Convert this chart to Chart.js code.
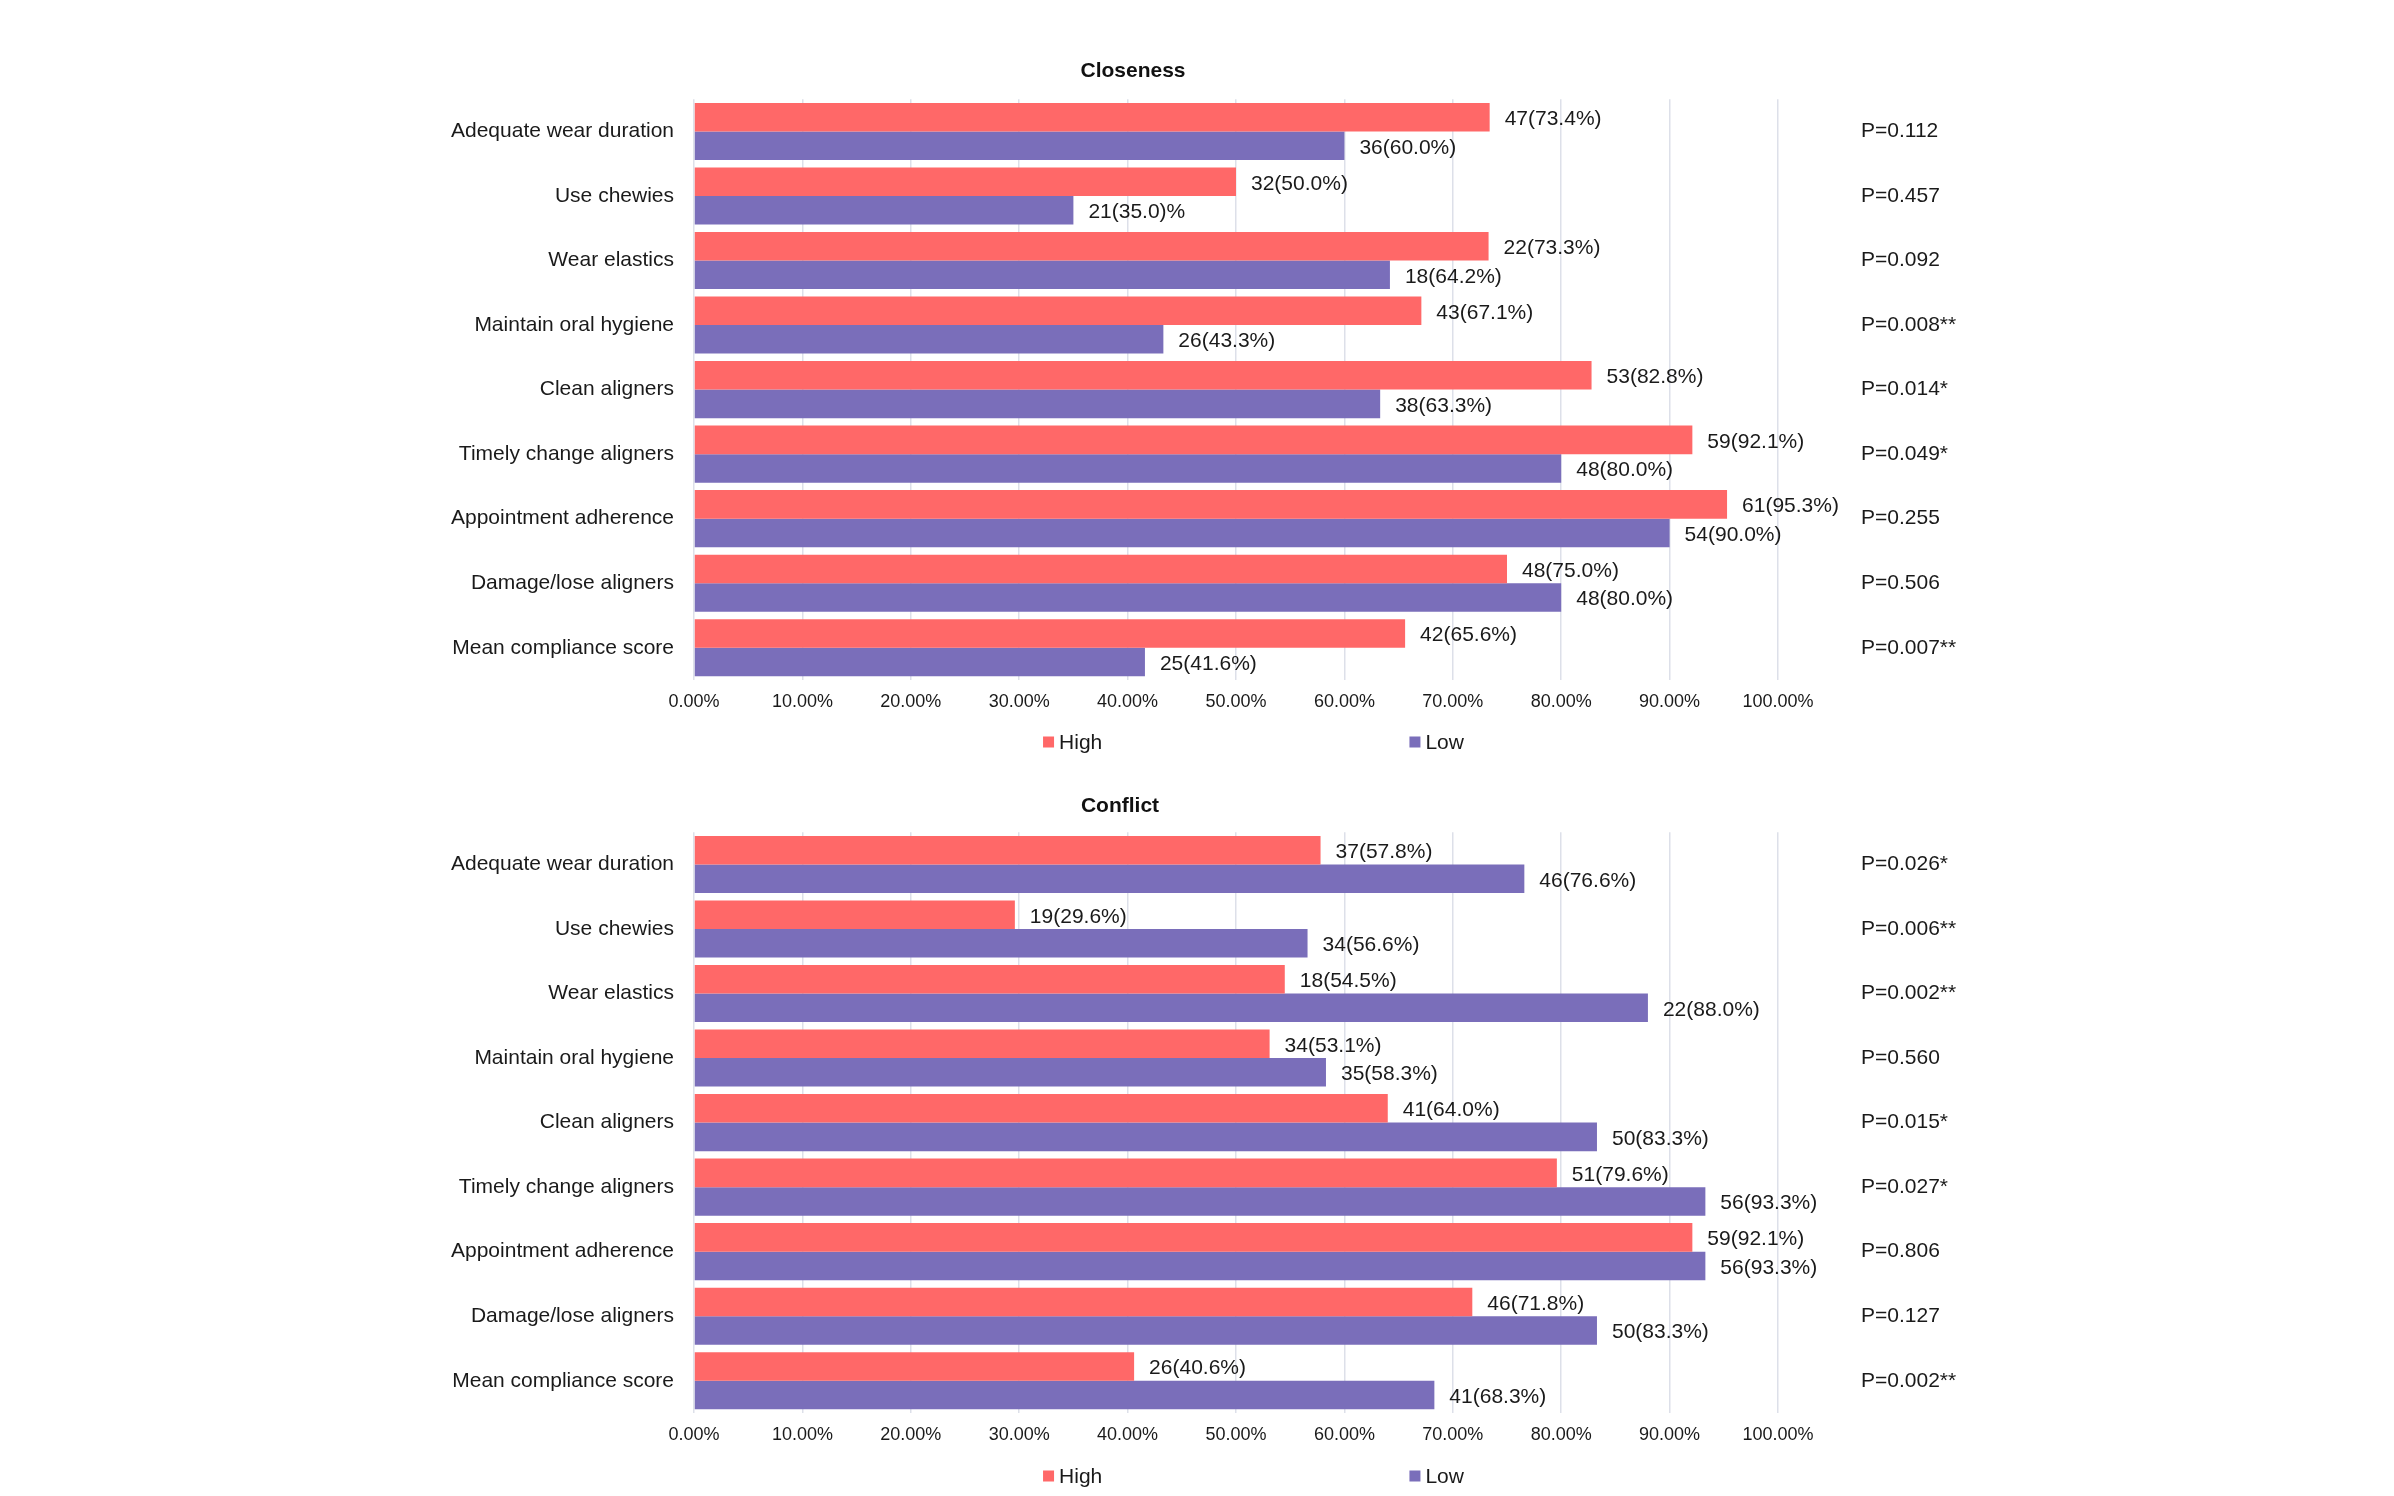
<!DOCTYPE html>
<html lang="en">
<head>
<meta charset="UTF-8" />
<title>Closeness and Conflict - compliance by group</title>
<script src="https://cdn.jsdelivr.net/npm/chart.js"></script>
<style>
  html, body { margin: 0; padding: 0; background: #fff; }
  body { width: 2394px; height: 1496px; position: relative; overflow: hidden; }
  canvas { position: absolute; left: 0; display: block; }
  #closenessChart { top: 0; }
  #conflictChart { top: 770px; }
</style>
</head>
<body>
<canvas id="closenessChart" width="2266" height="770"></canvas>
<canvas id="conflictChart" width="2240" height="726"></canvas>

<script>
const categories = [
  'Adequate wear duration', 'Use chewies', 'Wear elastics', 'Maintain oral hygiene',
  'Clean aligners', 'Timely change aligners', 'Appointment adherence',
  'Damage/lose aligners', 'Mean compliance score'
];
const seriesNames = ['High', 'Low'];
const seriesColors = ['#FF6868', '#7A6EBA'];
const xTickLabels = ['0.00%', '10.00%', '20.00%', '30.00%', '40.00%', '50.00%',
  '60.00%', '70.00%', '80.00%', '90.00%', '100.00%'];

// Closeness
const closenessHigh = [73.4, 50.0, 73.3, 67.1, 82.8, 92.1, 95.3, 75.0, 65.6];
const closenessLow = [60.0, 35.0, 64.2, 43.3, 63.3, 80.0, 90.0, 80.0, 41.6];
const closenessHighText = ['47(73.4%)', '32(50.0%)', '22(73.3%)', '43(67.1%)', '53(82.8%)',
  '59(92.1%)', '61(95.3%)', '48(75.0%)', '42(65.6%)'];
const closenessLowText = ['36(60.0%)', '21(35.0)%', '18(64.2%)', '26(43.3%)', '38(63.3%)',
  '48(80.0%)', '54(90.0%)', '48(80.0%)', '25(41.6%)'];
const closenessP = ['P=0.112', 'P=0.457', 'P=0.092', 'P=0.008**', 'P=0.014*',
  'P=0.049*', 'P=0.255', 'P=0.506', 'P=0.007**'];

// Conflict
const conflictHigh = [57.8, 29.6, 54.5, 53.1, 64.0, 79.6, 92.1, 71.8, 40.6];
const conflictLow = [76.6, 56.6, 88.0, 58.3, 83.3, 93.3, 93.3, 83.3, 68.3];
const conflictHighText = ['37(57.8%)', '19(29.6%)', '18(54.5%)', '34(53.1%)', '41(64.0%)',
  '51(79.6%)', '59(92.1%)', '46(71.8%)', '26(40.6%)'];
const conflictLowText = ['46(76.6%)', '34(56.6%)', '22(88.0%)', '35(58.3%)', '50(83.3%)',
  '56(93.3%)', '56(93.3%)', '50(83.3%)', '41(68.3%)'];
const conflictP = ['P=0.026*', 'P=0.006**', 'P=0.002**', 'P=0.560', 'P=0.015*',
  'P=0.027*', 'P=0.806', 'P=0.127', 'P=0.002**'];

const FONT = '"Liberation Sans", Arial, sans-serif';
const TEXT = '#1a1a1a';
Chart.defaults.font.family = FONT;
Chart.defaults.color = TEXT;

// count(percent) labels at the end of each bar
const valueLabels = {
  id: 'valueLabels',
  afterDatasetsDraw(chart) {
    const ctx = chart.ctx;
    ctx.save();
    ctx.font = '21px ' + FONT;
    ctx.fillStyle = TEXT;
    ctx.textAlign = 'left';
    ctx.textBaseline = 'middle';
    chart.data.datasets.forEach((ds, di) => {
      chart.getDatasetMeta(di).data.forEach((bar, i) => {
        ctx.fillText(ds.valueText[i], bar.x + 15, bar.y + 2);
      });
    });
    ctx.restore();
  }
};

// legend spread out under the plot like the original
const spreadLegend = {
  id: 'spreadLegend',
  afterDraw(chart, args, opts) {
    const { ctx, chartArea } = chart;
    const y = chartArea.bottom + opts.offsetY;
    ctx.save();
    ctx.font = '21px ' + FONT;
    ctx.textAlign = 'left';
    ctx.textBaseline = 'middle';
    chart.data.datasets.forEach((ds, di) => {
      const x = chartArea.left + chartArea.width * opts.positions[di];
      ctx.fillStyle = ds.backgroundColor;
      ctx.fillRect(x, y - 5.5, 11, 11);
      ctx.fillStyle = TEXT;
      ctx.fillText(ds.label, x + 16, y + 1);
    });
    ctx.restore();
  }
};

// fixed axis width; drop the label overhang padding so it does not push the plot area
function fixWidth(w) {
  return s => { s.width = w; s.paddingTop = 0; s.paddingBottom = 0; };
}

function makeChart(canvasId, title, high, low, highText, lowText, pvals, lay) {
  return new Chart(document.getElementById(canvasId), {
    type: 'bar',
    data: {
      labels: categories,
      datasets: [
        { label: seriesNames[0], data: high, valueText: highText, backgroundColor: seriesColors[0] },
        { label: seriesNames[1], data: low, valueText: lowText, backgroundColor: seriesColors[1] }
      ]
    },
    options: {
      indexAxis: 'y',
      responsive: false,
      animation: false,
      devicePixelRatio: 1,
      categoryPercentage: 0.885,
      barPercentage: 1.0,
      layout: { padding: { left: 0, right: 0, top: 0, bottom: lay.bottomPad } },
      plugins: {
        legend: { display: false },
        tooltip: { enabled: false },
        title: {
          display: true,
          text: title,
          color: '#111',
          font: { size: 21, weight: 'bold' },
          padding: { top: lay.titleTop, bottom: lay.titleBottom }
        },
        spreadLegend: { offsetY: lay.legendY, positions: [0.322, 0.660] }
      },
      scales: {
        x: {
          type: 'linear',
          position: 'bottom',
          min: 0,
          max: 100,
          grid: { color: '#dde0e9', lineWidth: 1.5, drawTicks: false },
          border: { display: false },
          ticks: {
            stepSize: 10,
            autoSkip: false,
            maxRotation: 0,
            padding: 11,
            font: { size: 18 },
            callback: (v, i) => xTickLabels[i]
          },
          afterFit: s => { s.height = 30; }
        },
        y: {
          type: 'category',
          position: 'left',
          offset: true,
          grid: { display: false, drawTicks: false },
          border: { display: false },
          ticks: { padding: 20, font: { size: 21 }, color: TEXT },
          afterFit: fixWidth(694)
        },
        y2: {
          type: 'category',
          labels: pvals,
          position: 'right',
          offset: true,
          grid: { display: false, drawTicks: false },
          border: { display: false },
          ticks: { padding: 83, font: { size: 21 }, color: TEXT },
          afterFit: fixWidth(lay.rightWidth)
        }
      }
    },
    plugins: [valueLabels, spreadLegend]
  });
}

makeChart('closenessChart', 'Closeness', closenessHigh, closenessLow,
  closenessHighText, closenessLowText, closenessP,
  { bottomPad: 60, titleTop: 59, titleBottom: 15, rightWidth: 488, legendY: 62 });

makeChart('conflictChart', 'Conflict', conflictHigh, conflictLow,
  conflictHighText, conflictLowText, conflictP,
  { bottomPad: 53, titleTop: 24, titleBottom: 13, rightWidth: 462, legendY: 63 });
</script>
</body>
</html>
